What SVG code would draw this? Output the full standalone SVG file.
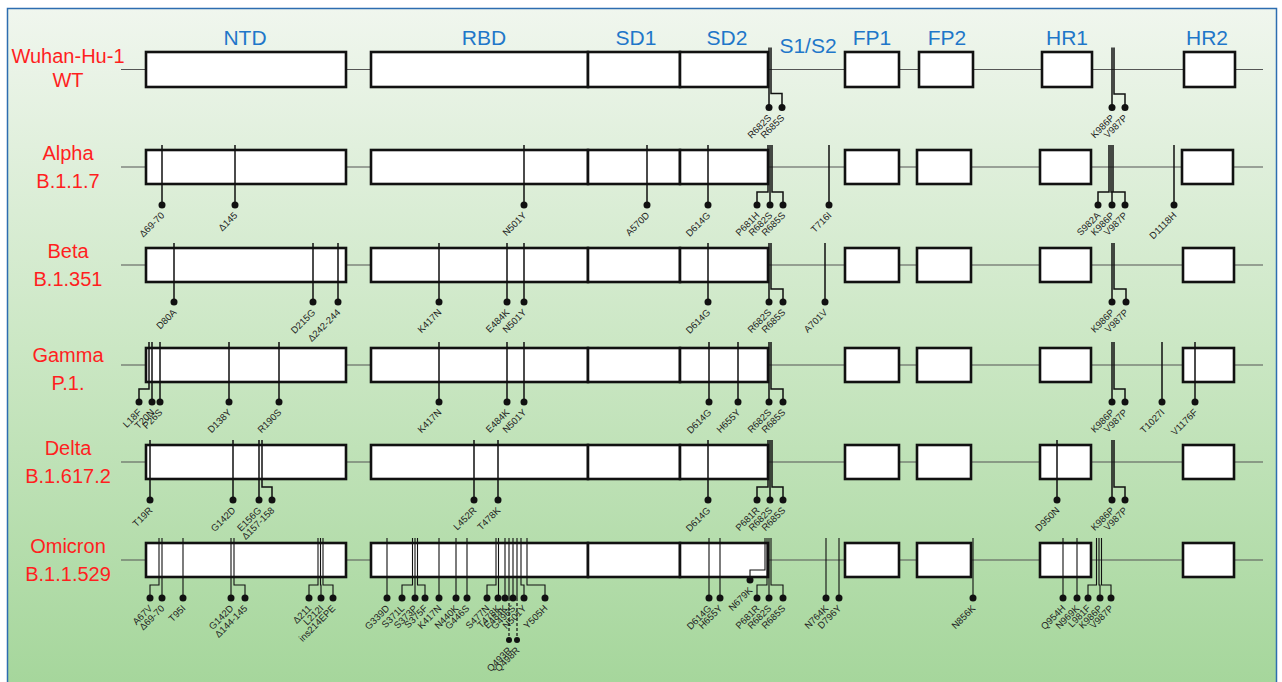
<svg xmlns="http://www.w3.org/2000/svg" width="1282" height="682" viewBox="0 0 1282 682">
<defs>
<linearGradient id="bg" x1="0" y1="0" x2="0" y2="1">
<stop offset="0" stop-color="#f0f6ee"/>
<stop offset="0.5" stop-color="#cbe7c4"/>
<stop offset="1" stop-color="#a5d69b"/>
</linearGradient>
<style>
.dom{fill:#fff;stroke:#111;stroke-width:2.6}
.bb{stroke:#555;stroke-width:1.2;fill:none}
.pin{stroke:#111;stroke-width:1.5;fill:none}
.thin{stroke:#111;stroke-width:1.1;fill:none}
.dash{stroke:#111;stroke-width:1.2;fill:none;stroke-dasharray:3 2}
.dot{fill:#111}
.ml{font-family:"Liberation Sans",Arial,sans-serif;font-size:9.5px;fill:#222;text-anchor:end}
.dl{font-family:"Liberation Sans",Arial,sans-serif;font-size:21px;fill:#1f77c9;text-anchor:middle}
.rl{font-family:"Liberation Sans",Arial,sans-serif;font-size:20px;fill:#ff1f1f;text-anchor:middle}
</style>
</defs>
<rect x="0" y="0" width="1282" height="682" fill="#fff"/>
<rect x="7.5" y="8.5" width="1269" height="680" fill="url(#bg)" stroke="#2d6db0" stroke-width="1.5"/>

<g id="domain-labels">
<text class="dl" x="245" y="45">NTD</text>
<text class="dl" x="484" y="45">RBD</text>
<text class="dl" x="636" y="45">SD1</text>
<text class="dl" x="727" y="45">SD2</text>
<text class="dl" x="808" y="53">S1/S2</text>
<text class="dl" x="872" y="45">FP1</text>
<text class="dl" x="947" y="45">FP2</text>
<text class="dl" x="1067" y="45">HR1</text>
<text class="dl" x="1207" y="45">HR2</text>
</g>

<g id="connectors">
<path class="bb" d="M121 69.5H1263M121 167H1263M121 265H1263M121 365H1263M121 462H1263M121 560H1263"/>
</g>

<g id="row-wt">
<text class="rl" x="68" y="63">Wuhan-Hu-1</text>
<text class="rl" x="68" y="87">WT</text>
<rect class="dom" x="146" y="52" width="200" height="35"/>
<rect class="dom" x="371" y="52" width="217" height="35"/>
<rect class="dom" x="588" y="52" width="92" height="35"/>
<rect class="dom" x="680" y="52" width="88" height="35"/>
<rect class="dom" x="845" y="52" width="54" height="35"/>
<rect class="dom" x="919" y="52" width="54" height="35"/>
<rect class="dom" x="1042" y="52" width="50" height="35"/>
<rect class="dom" x="1184" y="52" width="51" height="35"/>
</g>
<g id="row-alpha">
<text class="rl" x="68" y="160">Alpha</text>
<text class="rl" x="68" y="188">B.1.1.7</text>
<rect class="dom" x="146" y="150" width="200" height="34"/>
<rect class="dom" x="371" y="150" width="217" height="34"/>
<rect class="dom" x="588" y="150" width="92" height="34"/>
<rect class="dom" x="680" y="150" width="88" height="34"/>
<rect class="dom" x="845" y="150" width="54" height="34"/>
<rect class="dom" x="917" y="150" width="54" height="34"/>
<rect class="dom" x="1040" y="150" width="51" height="34"/>
<rect class="dom" x="1182" y="150" width="51" height="34"/>
</g>
<g id="row-beta">
<text class="rl" x="68" y="258">Beta</text>
<text class="rl" x="68" y="286">B.1.351</text>
<rect class="dom" x="146" y="248" width="200" height="34"/>
<rect class="dom" x="371" y="248" width="217" height="34"/>
<rect class="dom" x="588" y="248" width="92" height="34"/>
<rect class="dom" x="680" y="248" width="88" height="34"/>
<rect class="dom" x="845" y="248" width="54" height="34"/>
<rect class="dom" x="917" y="248" width="54" height="34"/>
<rect class="dom" x="1040" y="248" width="51" height="34"/>
<rect class="dom" x="1183" y="248" width="51" height="34"/>
</g>
<g id="row-gamma">
<text class="rl" x="68" y="362">Gamma</text>
<text class="rl" x="68" y="390">P.1.</text>
<rect class="dom" x="146" y="348" width="200" height="34"/>
<rect class="dom" x="371" y="348" width="217" height="34"/>
<rect class="dom" x="588" y="348" width="92" height="34"/>
<rect class="dom" x="680" y="348" width="88" height="34"/>
<rect class="dom" x="845" y="348" width="54" height="34"/>
<rect class="dom" x="917" y="348" width="54" height="34"/>
<rect class="dom" x="1040" y="348" width="51" height="34"/>
<rect class="dom" x="1183" y="348" width="51" height="34"/>
</g>
<g id="row-delta">
<text class="rl" x="68" y="455">Delta</text>
<text class="rl" x="68" y="483">B.1.617.2</text>
<rect class="dom" x="146" y="445" width="200" height="34"/>
<rect class="dom" x="371" y="445" width="217" height="34"/>
<rect class="dom" x="588" y="445" width="92" height="34"/>
<rect class="dom" x="680" y="445" width="88" height="34"/>
<rect class="dom" x="845" y="445" width="54" height="34"/>
<rect class="dom" x="917" y="445" width="54" height="34"/>
<rect class="dom" x="1040" y="445" width="51" height="34"/>
<rect class="dom" x="1183" y="445" width="51" height="34"/>
</g>
<g id="row-omicron">
<text class="rl" x="68" y="553">Omicron</text>
<text class="rl" x="68" y="581">B.1.1.529</text>
<rect class="dom" x="146" y="543" width="200" height="34"/>
<rect class="dom" x="371" y="543" width="217" height="34"/>
<rect class="dom" x="588" y="543" width="92" height="34"/>
<rect class="dom" x="680" y="543" width="88" height="34"/>
<rect class="dom" x="845" y="543" width="54" height="34"/>
<rect class="dom" x="917" y="543" width="54" height="34"/>
<rect class="dom" x="1040" y="543" width="51" height="34"/>
<rect class="dom" x="1183" y="543" width="51" height="34"/>
</g>

<g id="mutations">
<!-- WT -->
<path class="pin" d="M769 47.5V107.5M771 47.5V93.5H782V107.5M1112 47.5V107.5M1114 47.5V94H1125V107.5"/>
<g class="dot"><circle cx="769" cy="107.5" r="3.5"/><circle cx="782" cy="107.5" r="3.5"/><circle cx="1112" cy="107.5" r="3.5"/><circle cx="1125" cy="107.5" r="3.5"/></g>
<text class="ml" transform="translate(772,118.5) rotate(-45)">R682S</text>
<text class="ml" transform="translate(785,118.5) rotate(-45)">R685S</text>
<text class="ml" transform="translate(1115,118.5) rotate(-45)">K986P</text>
<text class="ml" transform="translate(1128,118.5) rotate(-45)">V987P</text>
<!-- Alpha -->
<path class="pin" d="M162 145V205M235 145V205M524 145V205M647 145V205M708 145V205M768 145V192H757V205M770 145V205M772 145V192H783V205M829 145V205M1109 145V192H1098V205M1111 145V192H1112V205M1113 145V192H1125V205M1174 145V205"/>
<g class="dot"><circle cx="162" cy="205" r="3.5"/><circle cx="235" cy="205" r="3.5"/><circle cx="524" cy="205" r="3.5"/><circle cx="647" cy="205" r="3.5"/><circle cx="708" cy="205" r="3.5"/><circle cx="757" cy="205" r="3.5"/><circle cx="770" cy="205" r="3.5"/><circle cx="783" cy="205" r="3.5"/><circle cx="829" cy="205" r="3.5"/><circle cx="1098" cy="205" r="3.5"/><circle cx="1112" cy="205" r="3.5"/><circle cx="1125" cy="205" r="3.5"/><circle cx="1174" cy="205" r="3.5"/></g>
<text class="ml" transform="translate(165,216) rotate(-45)">Δ69-70</text>
<text class="ml" transform="translate(238,216) rotate(-45)">Δ145</text>
<text class="ml" transform="translate(527,216) rotate(-45)">N501Y</text>
<text class="ml" transform="translate(650,216) rotate(-45)">A570D</text>
<text class="ml" transform="translate(711,216) rotate(-45)">D614G</text>
<text class="ml" transform="translate(760,216) rotate(-45)">P681H</text>
<text class="ml" transform="translate(773,216) rotate(-45)">R682S</text>
<text class="ml" transform="translate(786,216) rotate(-45)">R685S</text>
<text class="ml" transform="translate(832,216) rotate(-45)">T716I</text>
<text class="ml" transform="translate(1101,216) rotate(-45)">S982A</text>
<text class="ml" transform="translate(1115,216) rotate(-45)">K986P</text>
<text class="ml" transform="translate(1128,216) rotate(-45)">V987P</text>
<text class="ml" transform="translate(1177,216) rotate(-45)">D1118H</text>
<!-- Beta -->
<path class="pin" d="M174 243V302M313 243V302M338 243V302M439 243V302M507 243V302M524 243V302M708 243V302M769 243V302M771 243V289H783V302M825 243V302M1112 243V302M1114 243V289H1126V302"/>
<g class="dot"><circle cx="174" cy="302" r="3.5"/><circle cx="313" cy="302" r="3.5"/><circle cx="338" cy="302" r="3.5"/><circle cx="439" cy="302" r="3.5"/><circle cx="507" cy="302" r="3.5"/><circle cx="524" cy="302" r="3.5"/><circle cx="708" cy="302" r="3.5"/><circle cx="769" cy="302" r="3.5"/><circle cx="783" cy="302" r="3.5"/><circle cx="825" cy="302" r="3.5"/><circle cx="1112" cy="302" r="3.5"/><circle cx="1126" cy="302" r="3.5"/></g>
<text class="ml" transform="translate(177,313) rotate(-45)">D80A</text>
<text class="ml" transform="translate(316,313) rotate(-45)">D215G</text>
<text class="ml" transform="translate(341,313) rotate(-45)">Δ242-244</text>
<text class="ml" transform="translate(442,313) rotate(-45)">K417N</text>
<text class="ml" transform="translate(510,313) rotate(-45)">E484K</text>
<text class="ml" transform="translate(527,313) rotate(-45)">N501Y</text>
<text class="ml" transform="translate(711,313) rotate(-45)">D614G</text>
<text class="ml" transform="translate(772,313) rotate(-45)">R682S</text>
<text class="ml" transform="translate(786,313) rotate(-45)">R685S</text>
<text class="ml" transform="translate(828,313) rotate(-45)">A701V</text>
<text class="ml" transform="translate(1115,313) rotate(-45)">K986P</text>
<text class="ml" transform="translate(1129,313) rotate(-45)">V987P</text>
<!-- Gamma -->
<path class="pin" d="M149 342V389H139V402M152 342V402M160 342V402M229 342V402M279 342V402M439 342V402M507 342V402M524 342V402M709 342V402M738 342V402M769 342V402M771 342V389H783V402M1112 342V402M1114 342V389H1125V402M1162 342V402M1195 342V402"/>
<g class="dot"><circle cx="139" cy="402" r="3.5"/><circle cx="152" cy="402" r="3.5"/><circle cx="160" cy="402" r="3.5"/><circle cx="229" cy="402" r="3.5"/><circle cx="279" cy="402" r="3.5"/><circle cx="439" cy="402" r="3.5"/><circle cx="507" cy="402" r="3.5"/><circle cx="524" cy="402" r="3.5"/><circle cx="709" cy="402" r="3.5"/><circle cx="738" cy="402" r="3.5"/><circle cx="769" cy="402" r="3.5"/><circle cx="783" cy="402" r="3.5"/><circle cx="1112" cy="402" r="3.5"/><circle cx="1125" cy="402" r="3.5"/><circle cx="1162" cy="402" r="3.5"/><circle cx="1195" cy="402" r="3.5"/></g>
<text class="ml" transform="translate(142,413) rotate(-45)">L18F</text>
<text class="ml" transform="translate(155,413) rotate(-45)">T20N</text>
<text class="ml" transform="translate(163,413) rotate(-45)">P26S</text>
<text class="ml" transform="translate(232,413) rotate(-45)">D138Y</text>
<text class="ml" transform="translate(282,413) rotate(-45)">R190S</text>
<text class="ml" transform="translate(442,413) rotate(-45)">K417N</text>
<text class="ml" transform="translate(510,413) rotate(-45)">E484K</text>
<text class="ml" transform="translate(527,413) rotate(-45)">N501Y</text>
<text class="ml" transform="translate(712,413) rotate(-45)">D614G</text>
<text class="ml" transform="translate(741,413) rotate(-45)">H655Y</text>
<text class="ml" transform="translate(772,413) rotate(-45)">R682S</text>
<text class="ml" transform="translate(786,413) rotate(-45)">R685S</text>
<text class="ml" transform="translate(1115,413) rotate(-45)">K986P</text>
<text class="ml" transform="translate(1128,413) rotate(-45)">V987P</text>
<text class="ml" transform="translate(1165,413) rotate(-45)">T1027I</text>
<text class="ml" transform="translate(1198,413) rotate(-45)">V1176F</text>
<!-- Delta -->
<path class="pin" d="M150 440V500M233 440V500M259 440V500M262 440V487H272V500M474 440V500M498 440V500M708 440V500M768 440V487H757V500M770 440V500M772 440V487H783V500M1057 440V500M1112 440V500M1114 440V487H1125V500"/>
<g class="dot"><circle cx="150" cy="500" r="3.5"/><circle cx="233" cy="500" r="3.5"/><circle cx="259" cy="500" r="3.5"/><circle cx="272" cy="500" r="3.5"/><circle cx="474" cy="500" r="3.5"/><circle cx="498" cy="500" r="3.5"/><circle cx="708" cy="500" r="3.5"/><circle cx="757" cy="500" r="3.5"/><circle cx="770" cy="500" r="3.5"/><circle cx="783" cy="500" r="3.5"/><circle cx="1057" cy="500" r="3.5"/><circle cx="1112" cy="500" r="3.5"/><circle cx="1125" cy="500" r="3.5"/></g>
<text class="ml" transform="translate(153,511) rotate(-45)">T19R</text>
<text class="ml" transform="translate(236,511) rotate(-45)">G142D</text>
<text class="ml" transform="translate(262,511) rotate(-45)">E156G</text>
<text class="ml" transform="translate(275,511) rotate(-45)">Δ157-158</text>
<text class="ml" transform="translate(477,511) rotate(-45)">L452R</text>
<text class="ml" transform="translate(501,511) rotate(-45)">T478K</text>
<text class="ml" transform="translate(711,511) rotate(-45)">D614G</text>
<text class="ml" transform="translate(760,511) rotate(-45)">P681R</text>
<text class="ml" transform="translate(773,511) rotate(-45)">R682S</text>
<text class="ml" transform="translate(786,511) rotate(-45)">R685S</text>
<text class="ml" transform="translate(1060,511) rotate(-45)">D950N</text>
<text class="ml" transform="translate(1115,511) rotate(-45)">K986P</text>
<text class="ml" transform="translate(1128,511) rotate(-45)">V987P</text>
<!-- Omicron -->
<path class="thin" d="M159 538V585H150V598M162 538V598M183 538V598M231 538V598M234 538V585H245V598M318 538V585H309V598M320.5 538V585H321V598M323 538V585H333V598M387 538V598M412.5 538V585H402V598M415 538V598M417.5 538V585H425V598M439 538V598M456 538V598M467 538V598M496 538V585H487V598M498.5 538V598M505 538V598M509 538V598M513 538V598M517 538V598M521 538V585H524V598M527 538V585H545V598M709 538V598M720 538V598M765 538V570H750V580M767 538V585H757V598M769 538V598M771 538V585H783V598M826 538V598M839 538V598M973 538V598M1063 538V598M1077 538V598M1096.5 538V585H1088V598M1099 538V585H1100V598M1101.5 538V585H1111V598"/>
<path class="dash" d="M509 598V640M517 598V640"/>
<g class="dot"><circle cx="150" cy="598" r="3.5"/><circle cx="162" cy="598" r="3.5"/><circle cx="183" cy="598" r="3.5"/><circle cx="231" cy="598" r="3.5"/><circle cx="245" cy="598" r="3.5"/><circle cx="309" cy="598" r="3.5"/><circle cx="321" cy="598" r="3.5"/><circle cx="333" cy="598" r="3.5"/><circle cx="387" cy="598" r="3.5"/><circle cx="402" cy="598" r="3.5"/><circle cx="415" cy="598" r="3.5"/><circle cx="425" cy="598" r="3.5"/><circle cx="439" cy="598" r="3.5"/><circle cx="456" cy="598" r="3.5"/><circle cx="467" cy="598" r="3.5"/><circle cx="487" cy="598" r="3.5"/><circle cx="498" cy="598" r="3.5"/><circle cx="505" cy="598" r="3.5"/><circle cx="509" cy="640" r="3"/><circle cx="513" cy="598" r="3.5"/><circle cx="517" cy="640" r="3"/><circle cx="524" cy="598" r="3.5"/><circle cx="545" cy="598" r="3.5"/><circle cx="709" cy="598" r="3.5"/><circle cx="720" cy="598" r="3.5"/><circle cx="750" cy="580" r="3.5"/><circle cx="757" cy="598" r="3.5"/><circle cx="769" cy="598" r="3.5"/><circle cx="783" cy="598" r="3.5"/><circle cx="826" cy="598" r="3.5"/><circle cx="839" cy="598" r="3.5"/><circle cx="973" cy="598" r="3.5"/><circle cx="1063" cy="598" r="3.5"/><circle cx="1077" cy="598" r="3.5"/><circle cx="1088" cy="598" r="3.5"/><circle cx="1100" cy="598" r="3.5"/><circle cx="1111" cy="598" r="3.5"/></g>
<text class="ml" transform="translate(153,609) rotate(-45)">A67V</text>
<text class="ml" transform="translate(165,609) rotate(-45)">Δ69-70</text>
<text class="ml" transform="translate(186,609) rotate(-45)">T95I</text>
<text class="ml" transform="translate(234,609) rotate(-45)">G142D</text>
<text class="ml" transform="translate(248,609) rotate(-45)">Δ144-145</text>
<text class="ml" transform="translate(312,609) rotate(-45)">Δ211</text>
<text class="ml" transform="translate(324,609) rotate(-45)">L212I</text>
<text class="ml" transform="translate(336,609) rotate(-45)">ins214EPE</text>
<text class="ml" transform="translate(390,609) rotate(-45)">G339D</text>
<text class="ml" transform="translate(405,609) rotate(-45)">S371L</text>
<text class="ml" transform="translate(418,609) rotate(-45)">S373P</text>
<text class="ml" transform="translate(428,609) rotate(-45)">S375F</text>
<text class="ml" transform="translate(442,609) rotate(-45)">K417N</text>
<text class="ml" transform="translate(459,609) rotate(-45)">N440K</text>
<text class="ml" transform="translate(470,609) rotate(-45)">G446S</text>
<text class="ml" transform="translate(490,609) rotate(-45)">S477N</text>
<text class="ml" transform="translate(501,609) rotate(-45)">T478K</text>
<text class="ml" transform="translate(508,609) rotate(-45)">E484K</text>
<text class="ml" transform="translate(516,609) rotate(-45)">G496S</text>
<text class="ml" transform="translate(527,609) rotate(-45)">N501Y</text>
<text class="ml" transform="translate(548,609) rotate(-45)">Y505H</text>
<text class="ml" transform="translate(512,651) rotate(-45)">Q493R</text>
<text class="ml" transform="translate(520,651) rotate(-45)">Q498R</text>
<text class="ml" transform="translate(712,609) rotate(-45)">D614G</text>
<text class="ml" transform="translate(723,609) rotate(-45)">H655Y</text>
<text class="ml" transform="translate(753,591) rotate(-45)">N679K</text>
<text class="ml" transform="translate(760,609) rotate(-45)">P681R</text>
<text class="ml" transform="translate(772,609) rotate(-45)">R682S</text>
<text class="ml" transform="translate(786,609) rotate(-45)">R685S</text>
<text class="ml" transform="translate(829,609) rotate(-45)">N764K</text>
<text class="ml" transform="translate(842,609) rotate(-45)">D796Y</text>
<text class="ml" transform="translate(976,609) rotate(-45)">N856K</text>
<text class="ml" transform="translate(1066,609) rotate(-45)">Q954H</text>
<text class="ml" transform="translate(1080,609) rotate(-45)">N969K</text>
<text class="ml" transform="translate(1091,609) rotate(-45)">L981F</text>
<text class="ml" transform="translate(1103,609) rotate(-45)">K986P</text>
<text class="ml" transform="translate(1114,609) rotate(-45)">V987P</text>
</g>
</svg>
